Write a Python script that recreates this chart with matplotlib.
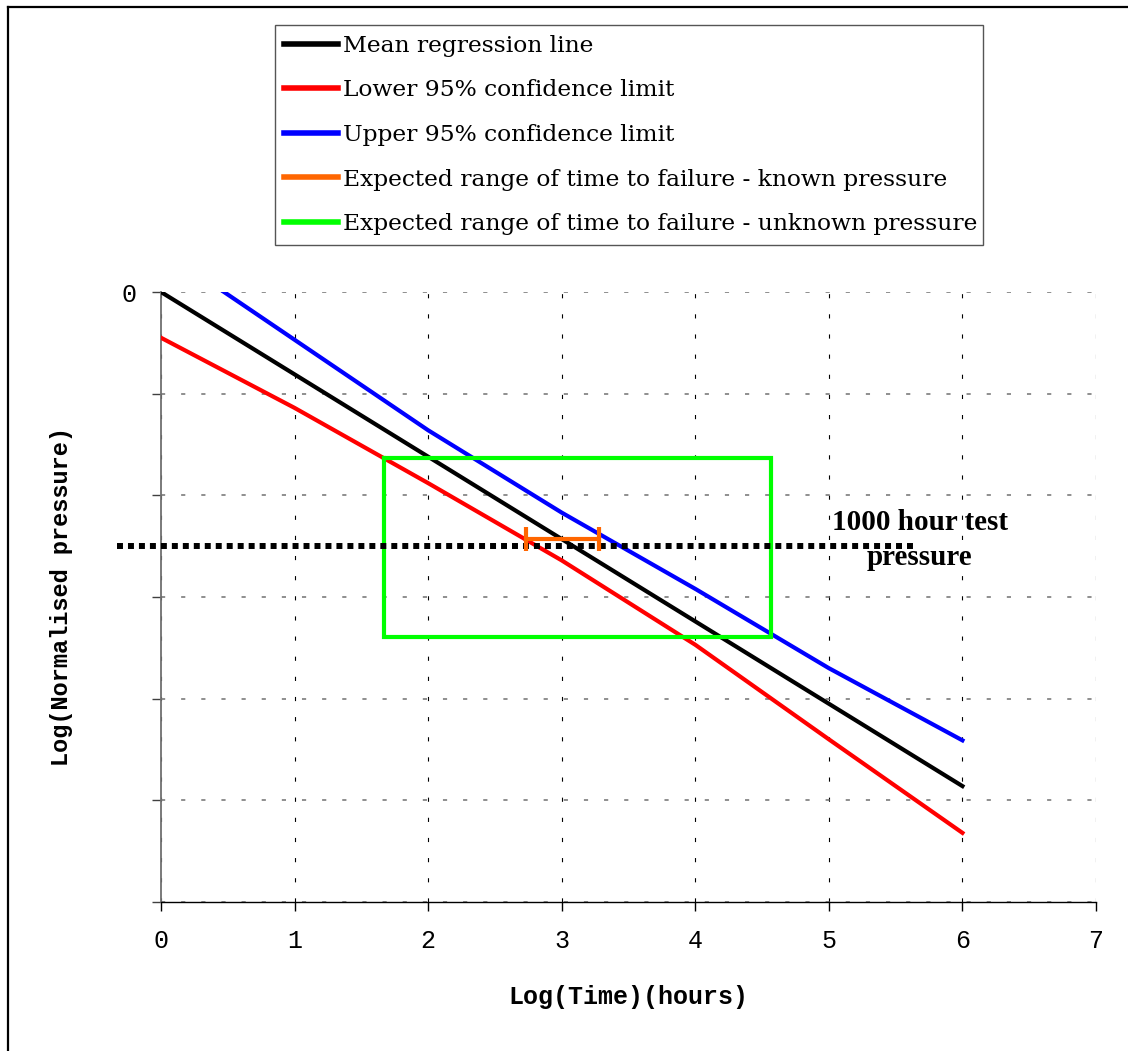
import matplotlib
matplotlib.use('Agg')
import matplotlib.pyplot as plt
from matplotlib.lines import Line2D

plt.rcParams['lines.scale_dashes'] = False

# log(time) at which the curves were evaluated
LOG_TIME = [0, 1, 2, 3, 4, 5, 6]
MEAN_LINE = [0.0, -0.81, -1.62, -2.43, -3.24, -4.05, -4.86]
LOWER_95 = [-0.45, -1.14, -1.88, -2.64, -3.47, -4.40, -5.32]
UPPER_95 = [0.42, -0.47, -1.36, -2.17, -2.92, -3.70, -4.41]

# expected range of time to failure, known pressure
KNOWN_X = [2.73, 3.28]
KNOWN_Y = [-2.43, -2.43]

# expected range of time to failure, unknown pressure (box corners)
UNKNOWN_X = [1.67, 4.57]
UNKNOWN_Y = [-1.63, -3.39]

# 1000 hour test pressure level
TEST_X = [-0.33, 5.65]
TEST_Y = [-2.50, -2.50]
TEST_LABEL_POS = (5.68, -2.44)

X_TICKS = [0, 1, 2, 3, 4, 5, 6, 7]
Y_TICKS = [0, -1, -2, -3, -4, -5, -6]
Y_TICK_LABELS = ['0', '', '', '', '', '', '']

LW = 3.0

fig = plt.figure(figsize=(11.28, 10.51), dpi=100, facecolor='w')
ax = fig.add_axes([161 / 1128, 1 - 902 / 1051, 935 / 1128, 610 / 1051])

ax.plot(LOG_TIME, MEAN_LINE, color='black', lw=LW, label='Mean regression line', zorder=5)
ax.plot(LOG_TIME, LOWER_95, color='#ff0000', lw=LW, label='Lower 95% confidence limit', zorder=5)
ax.plot(LOG_TIME, UPPER_95, color='#0000ff', lw=LW, label='Upper 95% confidence limit', zorder=5)

ax.plot(KNOWN_X, KNOWN_Y, color='#ff6600', lw=LW,
        label='Expected range of time to failure - known pressure', zorder=7)
ax.plot(KNOWN_X, KNOWN_Y, color='#ff6600', ls='none', marker='|',
        markersize=17, markeredgewidth=3, zorder=7)

ux0, ux1 = UNKNOWN_X
uy0, uy1 = UNKNOWN_Y
ax.plot([ux0, ux1, ux1, ux0, ux0], [uy0, uy0, uy1, uy1, uy0], color='#00ff00', lw=LW,
        solid_joinstyle='miter', label='Expected range of time to failure - unknown pressure', zorder=6)

ax.plot(TEST_X, TEST_Y, color='black', lw=4.3, linestyle=(0, (4.3, 3.6)),
        dash_capstyle='butt', clip_on=False, zorder=6)
ax.text(TEST_LABEL_POS[0], TEST_LABEL_POS[1], '1000 hour test\npressure', ha='center', va='center',
        multialignment='center', linespacing=1.35, fontsize=21, fontweight='bold',
        family='Liberation Serif', clip_on=False, zorder=8)

ax.set_xlim(0, 7)
ax.set_ylim(-6, 0)
ax.set_xticks(X_TICKS)
ax.set_yticks(Y_TICKS)
ax.set_yticklabels(Y_TICK_LABELS)

ax.xaxis.grid(True, color='black', lw=0.8, linestyle=(0, (3, 11.5)))
ax.yaxis.grid(True, color='#707070', lw=1.1, linestyle=(0, (3, 11.5)))
ax.set_axisbelow(True)

for side in ['top', 'right']:
  ax.spines[side].set_visible(False)
ax.spines['left'].set_color('#707070')
ax.spines['left'].set_linewidth(1.3)
ax.spines['bottom'].set_color('black')
ax.spines['bottom'].set_linewidth(1.0)

ax.tick_params(axis='x', direction='out', length=6.5, width=1.0, pad=13, labelsize=18)
ax.tick_params(axis='y', direction='out', length=6.5, width=1.0, pad=11, labelsize=18, color='#404040')
for lab in ax.get_xticklabels() + ax.get_yticklabels():
  lab.set_family('Liberation Mono')

ax.set_xlabel('Log(Time)(hours)', fontsize=18, fontweight='bold', family='Liberation Mono', va='center')
ax.xaxis.set_label_coords(0.5, -0.1557)
ax.set_ylabel('Log(Normalised pressure)', fontsize=17, fontweight='bold', family='Liberation Mono',
              va='center')
ax.yaxis.set_label_coords(-0.1059, 0.5)

leg = ax.legend(loc='center', bbox_to_anchor=(275 / 1128, 1 - 245 / 1051, 708 / 1128, 220 / 1051),
                bbox_transform=fig.transFigure, mode='expand', fancybox=False, framealpha=1,
                edgecolor='#555555', borderpad=0.4, borderaxespad=0, labelspacing=0.97,
                handlelength=2.3, handletextpad=0.2,
                prop={'family': 'DejaVu Serif', 'size': 16.8})
leg.get_frame().set_linewidth(1.0)
for line in leg.get_lines():
  line.set_linewidth(4)

# outer chart border (only top and left edges fall inside the image)
fig.add_artist(Line2D([8 / 1128, 1.0], [1 - 7 / 1051, 1 - 7 / 1051], transform=fig.transFigure,
                      color='black', lw=1.6))
fig.add_artist(Line2D([8 / 1128, 8 / 1128], [0.0, 1 - 7 / 1051], transform=fig.transFigure,
                      color='black', lw=1.6))

fig.savefig('out.png', dpi=100)
